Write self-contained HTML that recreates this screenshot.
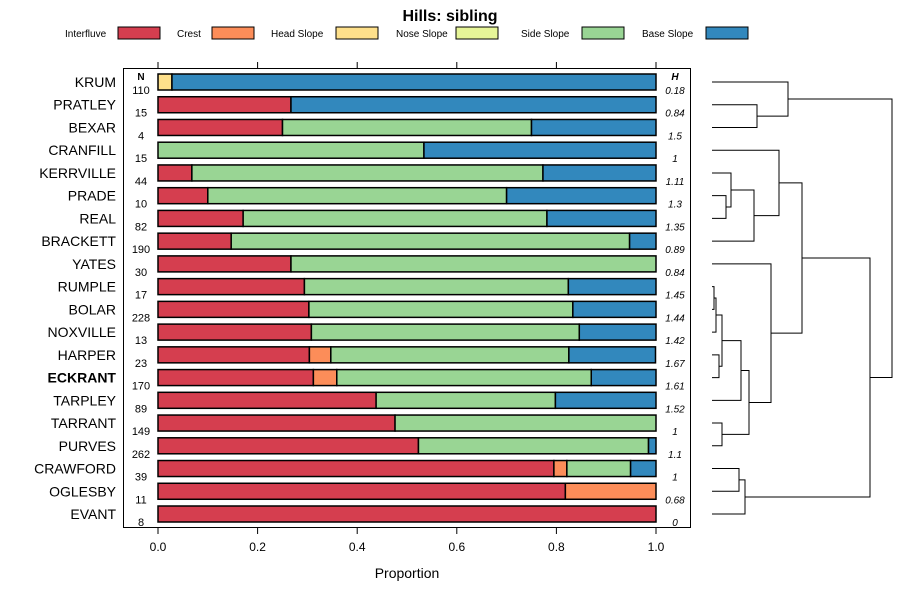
<!DOCTYPE html>
<html><head><meta charset="utf-8"><style>
body{margin:0;background:#fff;}
svg{display:block;font-family:"Liberation Sans",sans-serif;}
</style></head><body>
<svg id="c" width="900" height="600"></svg>
<script>
const categories=["KRUM","PRATLEY","BEXAR","CRANFILL","KERRVILLE","PRADE","REAL","BRACKETT","YATES","RUMPLE","BOLAR","NOXVILLE","HARPER","ECKRANT","TARPLEY","TARRANT","PURVES","CRAWFORD","OGLESBY","EVANT"];
const counts=[110,15,4,15,44,10,82,190,30,17,228,13,23,170,89,149,262,39,11,8];
const entropy=["0.18","0.84","1.5","1","1.11","1.3","1.35","0.89","0.84","1.45","1.44","1.42","1.67","1.61","1.52","1","1.1","1","0.68","0"];
const seriesNames=["Interfluve","Crest","Head Slope","Nose Slope","Side Slope","Base Slope"];
const interfluve=[0,0.267,0.25,0,0.068,0.1,0.171,0.147,0.267,0.294,0.303,0.308,0.304,0.312,0.438,0.476,0.523,0.795,0.818,1];
const crest=[0,0,0,0,0,0,0,0,0,0,0,0,0.043,0.047,0,0,0,0.026,0.182,0];
const headSlope=[0.028,0,0,0,0,0,0,0,0,0,0,0,0,0,0,0,0,0,0,0];
const noseSlope=[0,0,0,0,0,0,0,0,0,0,0,0,0,0,0,0,0,0,0,0];
const sideSlope=[0,0,0.5,0.534,0.705,0.6,0.61,0.8,0.733,0.53,0.53,0.538,0.478,0.511,0.36,0.524,0.462,0.128,0,0];
const baseSlope=[0.972,0.733,0.25,0.466,0.227,0.3,0.219,0.053,0,0.176,0.167,0.154,0.174,0.13,0.202,0,0.015,0.051,0,0];
const xTicks=[0,0.2,0.4,0.6,0.8,1.0];
const xTickLabels=["0.0","0.2","0.4","0.6","0.8","1.0"];

const colors=["#d53e4f","#fc8d59","#fee08b","#e6f598","#99d594","#3288bd"];
const series=[interfluve,crest,headSlope,noseSlope,sideSlope,baseSlope];
const svg=document.getElementById('c');
const NS="http://www.w3.org/2000/svg";
function mk(tag,attrs){const e=document.createElementNS(NS,tag);for(const k in attrs)e.setAttribute(k,attrs[k]);svg.appendChild(e);return e;}
function txt(s,attrs){const e=mk('text',attrs);e.textContent=s;return e;}
function xs(v){return 158+v*498;}
function ys(i){return 82+i*(514-82)/(categories.length-1);}

const title=txt("Hills: sibling",{x:450,y:21,'text-anchor':'middle','font-size':16,'font-weight':'bold'});



const legX=[[65,118],[177,212],[271,336],[396,456],[521,582],[642,706]];
for(let k=0;k<seriesNames.length;k++){
  const l=txt(seriesNames[k],{x:legX[k][0],y:37,'font-size':10});
  
  
  const r=mk('rect',{x:legX[k][1],y:27,width:42,height:12,fill:colors[k],stroke:'#000','stroke-width':1});
  
  
}

const panel=mk('rect',{x:123.5,y:68.5,width:567,height:459,fill:'none',stroke:'#000'});



for(let k=0;k<xTicks.length;k++){
  const v=xTicks[k];
  mk('line',{x1:xs(v),x2:xs(v),y1:62,y2:68,stroke:'#000'});
  mk('line',{x1:xs(v),x2:xs(v),y1:528,y2:534,stroke:'#000'});
  const l=txt(xTickLabels[k],{x:xs(v),y:551,'text-anchor':'middle','font-size':12});
  
  
}
const xt=txt("Proportion",{x:407,y:578,'text-anchor':'middle','font-size':14});



txt("N",{x:141,y:80,'text-anchor':'middle','font-size':10,'font-weight':'bold'});
txt("H",{x:675,y:80,'text-anchor':'middle','font-size':10,'font-weight':'bold','font-style':'italic'});

for(let i=0;i<categories.length;i++){
  const y=ys(i);
  const c=categories[i];
  const l=txt(c,{x:116,y:y+5,'text-anchor':'end','font-size':14,'font-weight':c==="ECKRANT"?'bold':'normal'});
  
  
  const n=txt(String(counts[i]),{x:141,y:y+12,'text-anchor':'middle','font-size':11});
  
  
  const h=txt(entropy[i],{x:675,y:y+12,'text-anchor':'middle','font-size':10,'font-style':'italic'});
  
  
  let acc=0;
  for(let k=0;k<series.length;k++){
    const v=series[k][i];
    if(v<=0)continue;
    const r=mk('rect',{x:xs(acc),y:y-8,width:xs(acc+v)-xs(acc),height:16,fill:colors[k],stroke:'#000','stroke-width':1.5});
    
    
    acc+=v;
  }
}

// dendrogram nodes: [left, right, xpos]
const nKrum=[0,[1,2,757],788];
const nUpper=[3,[[4,[5,6,726],731],7,754],779];
const nSmall=[[[[9,10,714],11,716],[12,13,719],722],14,741];
const nMidLow=[8,[nSmall,[15,16,722],749],771];
const nMid=[nUpper,nMidLow,802];
const nLow=[nMid,[[17,18,739],19,745],870];
const nRoot=[nKrum,nLow,892];
function draw(n){
  if(typeof n==='number')return {x:712,y:ys(n)};
  const a=draw(n[0]),b=draw(n[1]),x=n[2];
  const p=mk('path',{d:'M'+a.x+','+a.y+'H'+x+'V'+b.y+'H'+b.x,fill:'none',stroke:'#000','stroke-width':1});
  
  
  return {x:x,y:(a.y+b.y)/2};
}
draw(nRoot);
</script>
</body></html>
